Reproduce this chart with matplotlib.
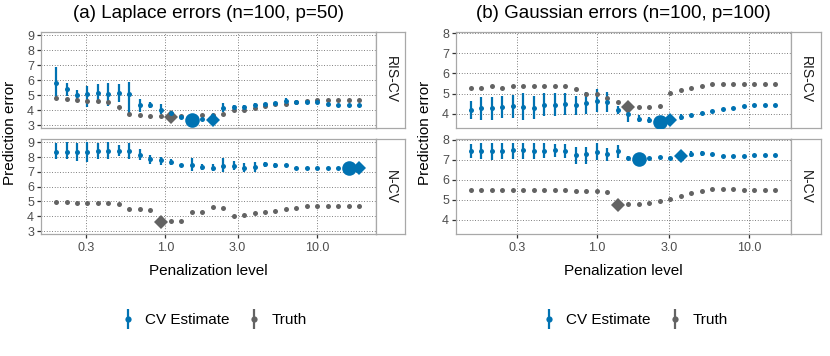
import matplotlib
matplotlib.use("Agg")
import matplotlib.pyplot as plt
from matplotlib.container import ErrorbarContainer
from matplotlib.legend_handler import HandlerErrorbar
from matplotlib.collections import LineCollection

plt.rcParams['font.family'] = ['Liberation Sans', 'DejaVu Sans']

BLUE = '#0072B2'
GREY = '#636363'

# ---------------- data ----------------
lam_a = [0.190, 0.2227, 0.2610, 0.3059, 0.3586, 0.4203, 0.4926, 0.5774, 0.6768, 0.7933,
         0.9298, 1.0898, 1.2774, 1.4972, 1.7549, 2.057, 2.411, 2.826, 3.312, 3.882,
         4.550, 5.333, 6.251, 7.327, 8.588, 10.066, 11.80, 13.83, 16.21, 19.00]
lam_b = [0.149, 0.1746, 0.2047, 0.2399, 0.2812, 0.3296, 0.3863, 0.4528, 0.5307, 0.6221,
         0.7292, 0.8547, 1.0018, 1.1742, 1.3763, 1.613, 1.891, 2.216, 2.598, 3.045,
         3.569, 4.183, 4.903, 5.747, 6.736, 7.895, 9.254, 10.85, 12.71, 14.90]

# (a) Laplace, RIS-CV
a_ris_est = [5.80, 5.40, 5.02, 5.06, 5.15, 5.06, 5.13, 5.06, 4.34, 4.34, 4.03, 3.78, 3.52, 3.36, 3.43,
             3.36, 4.12, 4.23, 4.23, 4.34, 4.39, 4.48, 4.63, 4.57, 4.57, 4.52, 4.43, 4.37, 4.34, 4.34]
a_ris_lo = [4.90, 4.95, 4.68, 4.23, 4.60, 4.28, 4.57, 3.63, 3.85, 4.12, 3.72, 3.70, 3.45, 3.30, 3.36,
            3.30, 3.85, 4.10, 4.12, 4.25, 4.30, 4.40, 4.45, 4.50, 4.50, 4.45, 4.36, 4.30, 4.27, 4.27]
a_ris_hi = [6.87, 5.80, 5.35, 5.58, 5.75, 5.80, 5.75, 5.87, 4.75, 4.57, 4.43, 3.86, 3.60, 3.42, 3.50,
            3.42, 4.46, 4.36, 4.34, 4.45, 4.48, 4.56, 4.80, 4.64, 4.64, 4.59, 4.50, 4.44, 4.41, 4.41]
a_ris_true = [4.84, 4.75, 4.66, 4.61, 4.61, 4.57, 4.21, 3.72, 3.67, 3.63, 3.63, 3.54, 3.62, 3.60, 3.67,
              3.65, 3.72, 4.03, 4.03, 4.16, 4.25, 4.39, 4.43, 4.52, 4.61, 4.66, 4.66, 4.66, 4.66, 4.66]
# (a) Laplace, N-CV
a_ncv_est = [8.34, 8.38, 8.34, 8.34, 8.40, 8.40, 8.45, 8.40, 8.16, 7.85, 7.79, 7.68, 7.50, 7.50, 7.35,
             7.30, 7.41, 7.41, 7.30, 7.35, 7.54, 7.46, 7.50, 7.30, 7.28, 7.30, 7.30, 7.30, 7.30, 7.30]
a_ncv_lo = [7.85, 7.85, 7.72, 7.68, 7.90, 7.85, 8.07, 7.85, 7.79, 7.57, 7.50, 7.50, 7.44, 7.06, 7.15,
            7.06, 7.01, 7.10, 7.01, 7.01, 7.35, 7.28, 7.44, 7.24, 7.22, 7.24, 7.24, 7.24, 7.24, 7.24]
a_ncv_hi = [8.96, 9.00, 8.96, 9.00, 8.96, 9.00, 8.82, 8.96, 8.56, 8.12, 8.01, 7.85, 7.56, 7.94, 7.54,
            7.57, 7.94, 7.72, 7.63, 7.68, 7.68, 7.59, 7.56, 7.36, 7.34, 7.36, 7.36, 7.36, 7.36, 7.36]
a_ncv_true = [4.98, 4.96, 4.92, 4.92, 4.90, 4.88, 4.83, 4.50, 4.46, 4.41, 3.60, 3.66, 3.66, 4.32, 4.32,
              4.63, 4.54, 4.01, 4.10, 4.19, 4.26, 4.37, 4.46, 4.59, 4.68, 4.72, 4.72, 4.72, 4.72, 4.72]

# (b) Gaussian, RIS-CV
b_ris_est = [4.21, 4.29, 4.29, 4.34, 4.38, 4.34, 4.31, 4.44, 4.44, 4.51, 4.42, 4.56, 4.64, 4.60, 4.20,
             3.98, 3.76, 3.69, 3.59, 3.72, 3.82, 3.95, 4.02, 4.15, 4.24, 4.31, 4.38, 4.44, 4.46, 4.46]
b_ris_lo = [3.74, 3.71, 3.71, 3.79, 3.79, 3.71, 3.76, 3.87, 3.87, 3.95, 3.95, 3.98, 4.08, 4.08, 3.98,
            3.59, 3.59, 3.54, 3.52, 3.66, 3.69, 3.89, 3.97, 4.10, 4.19, 4.26, 4.33, 4.39, 4.41, 4.41]
b_ris_hi = [4.64, 4.85, 4.85, 4.88, 4.93, 5.01, 4.90, 5.01, 5.03, 5.01, 4.90, 5.09, 5.25, 5.09, 4.41,
            4.20, 3.93, 3.84, 3.66, 3.78, 3.98, 4.01, 4.08, 4.20, 4.29, 4.36, 4.43, 4.49, 4.51, 4.51]
b_ris_true = [5.29, 5.29, 5.36, 5.29, 5.36, 5.36, 5.36, 5.36, 5.36, 5.36, 5.21, 4.96, 4.96, 4.77, 4.60,
              4.36, 4.33, 4.36, 4.41, 5.01, 5.16, 5.29, 5.40, 5.50, 5.50, 5.50, 5.49, 5.49, 5.47, 5.47]
# (b) Gaussian, N-CV
b_ncv_est = [7.45, 7.47, 7.45, 7.45, 7.49, 7.49, 7.47, 7.47, 7.50, 7.47, 7.25, 7.29, 7.39, 7.30, 7.47,
             7.12, 7.05, 7.09, 7.15, 7.12, 7.19, 7.32, 7.34, 7.29, 7.22, 7.22, 7.22, 7.25, 7.25, 7.25]
b_ncv_lo = [7.09, 7.05, 7.00, 7.05, 7.05, 7.05, 7.05, 7.09, 7.15, 7.09, 6.79, 6.79, 7.00, 6.95, 7.12,
            7.00, 7.00, 7.04, 7.10, 7.07, 7.14, 7.17, 7.22, 7.24, 7.17, 7.17, 7.17, 7.20, 7.20, 7.20]
b_ncv_hi = [7.78, 7.83, 7.83, 7.83, 7.83, 7.83, 7.83, 7.83, 7.78, 7.78, 7.67, 7.67, 7.83, 7.59, 7.75,
            7.22, 7.10, 7.14, 7.20, 7.17, 7.24, 7.45, 7.45, 7.34, 7.27, 7.27, 7.27, 7.30, 7.30, 7.30]
b_ncv_true = [5.51, 5.51, 5.51, 5.51, 5.51, 5.49, 5.49, 5.49, 5.48, 5.48, 5.46, 5.44, 5.43, 5.39, 4.73,
              4.80, 4.80, 4.83, 4.96, 5.06, 5.18, 5.33, 5.43, 5.53, 5.56, 5.53, 5.51, 5.49, 5.49, 5.49]

# highlighted indices: (cv minimum circle, cv selected diamond, truth minimum diamond)
a_ris_mark = (13, 15, 11)
a_ncv_mark = (28, 29, 10)
b_ris_mark = (18, 19, 15)
b_ncv_mark = (16, 20, 14)

x_ticks = [0.3, 1.0, 3.0, 10.0]
x_tick_labels = ['0.3', '1.0', '3.0', '10.0']
titles = ['(a) Laplace errors (n=100, p=50)', '(b) Gaussian errors (n=100, p=100)']
strips = ['RIS-CV', 'N-CV']
legend_labels = ['CV Estimate', 'Truth']

# ---------------- figure ----------------
W, H = 830, 356
fig = plt.figure(figsize=(W / 100, H / 100), dpi=100)


def fx(px):
    return px / W


def fy(py):
    return 1 - py / H


BORDER = '#A8A8A8'


def make_panel(x0, x1, y0, y1, sx1):
    ax = fig.add_axes([fx(x0), fy(y1), fx(x1 - x0), (y1 - y0) / H])
    st = fig.add_axes([fx(x1), fy(y1), fx(sx1 - x1), (y1 - y0) / H])
    st.set_xticks([]); st.set_yticks([])
    st.set_facecolor('white')
    for s in st.spines.values():
        s.set_color(BORDER); s.set_linewidth(0.9)
    for s in ax.spines.values():
        s.set_color(BORDER); s.set_linewidth(0.9)
    return ax, st


def draw(ax, lam, est, lo, hi, true, mark):
    ax.vlines(lam, lo, hi, color=BLUE, lw=1.6, zorder=3)
    ax.plot(lam, true, 'o', color=GREY, ms=3.6, mew=0, zorder=3)
    ax.plot(lam, est, 'o', color=BLUE, ms=3.6, mew=0, zorder=4)
    ci, di, ti = mark
    ax.plot([lam[ti]], [true[ti]], 'D', color=GREY, ms=7, mew=0, zorder=3.5)
    ax.plot([lam[ci]], [est[ci]], 'o', color=BLUE, ms=10.5, mew=0, zorder=5)
    ax.plot([lam[di]], [est[di]], 'D', color=BLUE, ms=7, mew=0, zorder=5)


def style(ax, xlim, ylim, yticks, bottom):
    ax.set_xscale('log')
    ax.set_xlim(*xlim)
    ax.set_ylim(*ylim)
    ax.set_xticks(x_ticks)
    ax.set_xticks([], minor=True)
    ax.set_yticks(yticks)
    ax.set_yticklabels([str(v) for v in yticks])
    ax.grid(True, which='major', color='#555555', lw=0.6, ls=(0, (1, 2.2)))
    ax.set_axisbelow(True)
    ax.tick_params(axis='y', length=3, width=0.9, color='#333333', labelsize=9,
                   labelcolor='#4D4D4D', pad=2)
    if bottom:
        ax.set_xticklabels(x_tick_labels)
        ax.tick_params(axis='x', length=3, width=0.9, color='#333333', labelsize=9,
                       labelcolor='#4D4D4D', pad=2.5)
    else:
        ax.tick_params(axis='x', length=0, labelbottom=False)


panels = [
    dict(x0=41, x1=376, sx=405, lam=lam_a, xlim=(0.151, 24.6), ylim=(2.8, 9.23), yt=[3, 4, 5, 6, 7, 8, 9],
         leg=213,
         rows=[(a_ris_est, a_ris_lo, a_ris_hi, a_ris_true, a_ris_mark),
               (a_ncv_est, a_ncv_lo, a_ncv_hi, a_ncv_true, a_ncv_mark)]),
    dict(x0=456, x1=791, sx=821, lam=lam_b, xlim=(0.1187, 18.9), ylim=(3.3, 8.05), yt=[4, 5, 6, 7, 8],
         leg=634,
         rows=[(b_ris_est, b_ris_lo, b_ris_hi, b_ris_true, b_ris_mark),
               (b_ncv_est, b_ncv_lo, b_ncv_hi, b_ncv_true, b_ncv_mark)]),
]
row_y = [(32, 128), (139, 234)]

for k, p in enumerate(panels):
    for r, (est, lo, hi, true, mark) in enumerate(p['rows']):
        y0, y1 = row_y[r]
        ax, st = make_panel(p['x0'], p['x1'], y0, y1, p['sx'])
        draw(ax, p['lam'], est, lo, hi, true, mark)
        style(ax, p['xlim'], p['ylim'], p['yt'], bottom=(r == 1))
        st.text(0.5, 0.5, strips[r], rotation=-90, ha='center', va='center',
                fontsize=10, color='#1A1A1A', transform=st.transAxes)
    cx = (p['x0'] + p['x1']) / 2
    fig.text(fx(cx), fy(13), titles[k], ha='center', va='center', fontsize=13.5, color='black')
    fig.text(fx(cx), fy(271), 'Penalization level', ha='center', va='center', fontsize=11)
    fig.text(fx(p['x0'] - 31), fy(133), 'Prediction error', ha='center', va='center',
             rotation=90, fontsize=11)

    # legend
    handles = []
    for col, lab in zip([BLUE, GREY], legend_labels):
        handles.append(ErrorbarContainer(
            (plt.Line2D([], [], ls='none', marker='o', color=col, ms=4.5, mew=0),
             (), (LineCollection([], colors=col, linewidths=1.6),)),
            has_xerr=False, has_yerr=True, label=lab))
    fig.legend(handles=handles, labels=legend_labels, ncol=2, loc='center',
               bbox_to_anchor=(fx(p['leg']), fy(320)), frameon=False, fontsize=11,
               numpoints=1, handlelength=1.1, handletextpad=0.6, columnspacing=1.0,
               handler_map={ErrorbarContainer: HandlerErrorbar(xerr_size=0, yerr_size=0.65)})

fig.savefig('out.png', dpi=100)
